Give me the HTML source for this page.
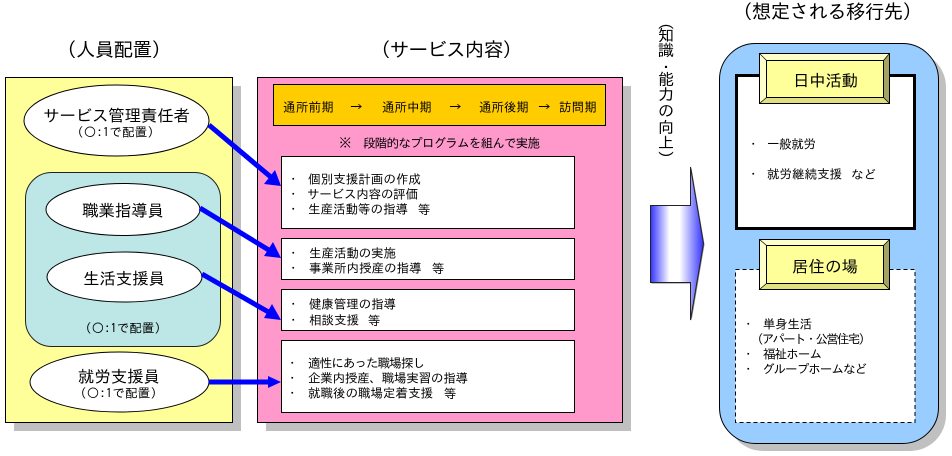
<!DOCTYPE html>
<html lang="ja"><head><meta charset="utf-8"><title>diagram</title>
<style>
html,body{margin:0;padding:0;background:#fff;width:952px;height:456px;overflow:hidden}
svg{position:absolute;left:0;top:0;display:block}
text{font-family:"IPAGothic","Liberation Sans","Noto Sans CJK JP",sans-serif;fill:#000;dominant-baseline:central}
.t{font-size:19.5px}.m{font-size:16.5px}.s{font-size:12.5px}
#v{position:absolute;left:658px;top:13px;writing-mode:vertical-rl;font:16px/16px "IPAGothic","Noto Sans CJK JP",sans-serif;white-space:nowrap}
#v .a{letter-spacing:-3px}
#v .b{letter-spacing:-4px}
</style></head><body>
<svg width="952" height="456" viewBox="0 0 952 456">
<defs>
<linearGradient id="g" x1="0" x2="1" y1="0" y2="0">
<stop offset="0" stop-color="#3333ff"/><stop offset=".36" stop-color="#ffffff"/><stop offset=".55" stop-color="#ffffff"/><stop offset="1" stop-color="#3333ff"/>
</linearGradient>
</defs>
<!-- shadows -->
<rect x="14" y="86" width="227" height="345" fill="#c0c0c0"/>
<rect x="266" y="86" width="365" height="345" fill="#c0c0c0"/>
<rect x="727" y="51" width="219" height="400" rx="36" fill="#c0c0c0"/>
<!-- panels -->
<rect x="5.5" y="77.5" width="227" height="345" fill="#ffff99" stroke="#000"/>
<rect x="257.5" y="77.5" width="365" height="345" fill="#ff99cc" stroke="#000"/>
<rect x="719.5" y="43.5" width="219" height="400" rx="36" fill="#99ccff" stroke="#000"/>
<!-- left -->
<rect x="25.5" y="172.5" width="195" height="174" rx="26" fill="#bde6e6" stroke="#222"/>
<ellipse cx="116.5" cy="120.5" rx="92.5" ry="35.5" fill="#fff" stroke="#000"/>
<ellipse cx="123" cy="209.5" rx="77" ry="26" fill="#fff" stroke="#000"/>
<ellipse cx="124.5" cy="277" rx="77.5" ry="25" fill="#fff" stroke="#000"/>
<ellipse cx="119.5" cy="382" rx="89.5" ry="30" fill="#fff" stroke="#000"/>
<!-- centre -->
<rect x="273.5" y="84.5" width="332" height="41" fill="#ffcc00" stroke="#000"/>
<rect x="281.5" y="156.5" width="293" height="72" fill="#fff" stroke="#000"/>
<rect x="281.5" y="238.5" width="293" height="41" fill="#fff" stroke="#000"/>
<rect x="281.5" y="289.5" width="293" height="41" fill="#fff" stroke="#000"/>
<rect x="281.5" y="340.5" width="293" height="72" fill="#fff" stroke="#000"/>
<!-- arrows -->
<g stroke="#0000ff" stroke-width="5" fill="none">
<line x1="209" y1="125" x2="272" y2="178"/>
<line x1="200" y1="208" x2="272" y2="252"/>
<line x1="202" y1="274" x2="272" y2="314"/>
<line x1="209" y1="382" x2="272" y2="382"/>
</g>
<g fill="#0000ff">
<polygon points="281,186 264,184 275,170"/>
<polygon points="281,258 264,256 273,242"/>
<polygon points="281,320 264,318 272,304"/>
<polygon points="281,382 268,376 268,388"/>
</g>
<!-- big arrow -->
<polygon points="650.5,205.5 690.5,205.5 690.5,167 703.5,243.5 690.5,320 690.5,282.5 650.5,282.5" fill="#808080" transform="translate(1,1)"/>
<polygon points="650.5,205.5 690.5,205.5 690.5,167 703.5,243.5 690.5,320 690.5,282.5 650.5,282.5" fill="url(#g)" stroke="#222" stroke-width="1"/>
<!-- right -->
<rect x="736.5" y="75.5" width="178" height="153" fill="#fff" stroke="#000" stroke-width="3"/>
<rect x="735.5" y="269.5" width="179.500" height="153" fill="#fff" stroke="#000" stroke-dasharray="4 3"/>
<!-- bevel 1 -->
<g stroke="#000" stroke-width=".6">
<rect x="759.500" y="53.500" width="130" height="50" fill="#ffff99"/>
<polygon points="759.500,53.500 889.500,53.500 883.500,60.500 766.500,60.500" fill="#ffffcc"/>
<polygon points="759.500,53.500 766.500,60.500 766.500,97.500 759.500,103.500" fill="#ffffcc"/>
<polygon points="889.500,53.500 883.500,60.500 883.500,97.500 889.500,103.500" fill="#a3a366"/>
<polygon points="759.500,103.500 766.500,97.500 883.500,97.500 889.500,103.500" fill="#e0e080"/>
<rect x="766.500" y="60.500" width="117" height="37" fill="#ffff99" stroke-width="1"/>
<rect x="759.500" y="53.500" width="130" height="50" fill="none" stroke-width="1"/>
</g>
<!-- bevel 2 -->
<g stroke="#000" stroke-width=".6">
<rect x="759.500" y="239.500" width="130" height="50" fill="#ffff99"/>
<polygon points="759.500,239.500 889.500,239.500 883.500,245.500 766.500,245.500" fill="#ffffcc"/>
<polygon points="759.500,239.500 766.500,245.500 766.500,283.500 759.500,289.500" fill="#ffffcc"/>
<polygon points="889.500,239.500 883.500,245.500 883.500,283.500 889.500,289.500" fill="#a3a366"/>
<polygon points="759.500,289.500 766.500,283.500 883.500,283.500 889.500,289.500" fill="#e0e080"/>
<rect x="766.500" y="245.500" width="117" height="38" fill="#ffff99" stroke-width="1"/>
<rect x="759.500" y="239.500" width="130" height="50" fill="none" stroke-width="1"/>
</g>
<!-- titles -->
<text class="t" x="57" y="50" textLength="114" lengthAdjust="spacing">（人員配置）</text>
<text class="t" x="371" y="50" textLength="151" lengthAdjust="spacing">（サービス内容）</text>
<text class="t" x="733" y="12" textLength="189" lengthAdjust="spacing">（想定される移行先）</text>
<!-- left labels -->
<text class="m" x="43" y="115" textLength="147" lengthAdjust="spacing">サービス管理責任者</text>
<text class="s" x="71" y="132" textLength="89" lengthAdjust="spacing">（○:1で配置）</text>
<text class="m" x="82" y="210" textLength="82" lengthAdjust="spacing">職業指導員</text>
<text class="m" x="83" y="278" textLength="82" lengthAdjust="spacing">生活支援員</text>
<text class="s" x="79" y="328" textLength="88" lengthAdjust="spacing">（○:1で配置）</text>
<text class="m" x="78" y="376" textLength="82" lengthAdjust="spacing">就労支援員</text>
<text class="s" x="74" y="393" textLength="89" lengthAdjust="spacing">（○:1で配置）</text>
<!-- orange -->
<text class="s" x="283" y="107" textLength="51" lengthAdjust="spacing">通所前期</text>
<text class="s" x="350" y="107">→</text>
<text class="s" x="382" y="107" textLength="50" lengthAdjust="spacing">通所中期</text>
<text class="s" x="449" y="107">→</text>
<text class="s" x="479" y="107" textLength="50" lengthAdjust="spacing">通所後期</text>
<text class="s" x="538" y="107">→</text>
<text class="s" x="559" y="107" textLength="38" lengthAdjust="spacing">訪問期</text>
<text class="s" x="339" y="143">※</text>
<text class="s" x="363" y="143" textLength="177" lengthAdjust="spacing">段階的なプログラムを組んで実施</text>
<!-- boxes -->
<g class="s">
<text class="s" x="287" y="179">・</text><text class="s" x="308" y="179" textLength="113" lengthAdjust="spacing">個別支援計画の作成</text>
<text class="s" x="287" y="194">・</text><text class="s" x="307" y="194" textLength="111" lengthAdjust="spacing">サービス内容の評価</text>
<text class="s" x="287" y="209">・</text><text class="s" x="308" y="209">生産活動等の指導<tspan x="418">等</tspan></text>
<text class="s" x="287" y="253">・</text><text class="s" x="309" y="253" textLength="87" lengthAdjust="spacing">生産活動の実施</text>
<text class="s" x="287" y="268">・</text><text class="s" x="309" y="268">事業所内授産の指導<tspan x="432">等</tspan></text>
<text class="s" x="287" y="304">・</text><text class="s" x="309" y="304" textLength="87" lengthAdjust="spacing">健康管理の指導</text>
<text class="s" x="287" y="320">・</text><text class="s" x="309" y="320">相談支援<tspan x="368">等</tspan></text>
<text class="s" x="286" y="363">・</text><text class="s" x="308" y="363" textLength="117" lengthAdjust="spacing">適性にあった職場探し</text>
<text class="s" x="286" y="378">・</text><text class="s" x="308" y="378" textLength="160" lengthAdjust="spacing">企業内授産、職場実習の指導</text>
<text class="s" x="286" y="393">・</text><text class="s" x="308" y="393">就職後の職場定着支援<tspan x="444">等</tspan></text>
</g>
<!-- right labels -->
<text class="m" x="793" y="80" textLength="65" lengthAdjust="spacing">日中活動</text>
<text class="m" x="792" y="266" textLength="66" lengthAdjust="spacing">居住の場</text>
<text class="s" x="747" y="144">・</text><text class="s" x="767" y="144" textLength="49" lengthAdjust="spacing">一般就労</text>
<text class="s" x="747" y="174">・</text><text class="s" x="767" y="174">就労継続支援<tspan x="851">など</tspan></text>
<text class="s" x="742" y="324">・</text><text class="s" x="763" y="324" textLength="49" lengthAdjust="spacing">単身生活</text>
<text class="s" x="751" y="339" textLength="120" lengthAdjust="spacing">（アパート・公営住宅）</text>
<text class="s" x="742" y="354">・</text><text class="s" x="763" y="354" textLength="59" lengthAdjust="spacing">福祉ホーム</text>
<text class="s" x="742" y="369">・</text><text class="s" x="762" y="369" textLength="105" lengthAdjust="spacing">グループホームなど</text>
</svg>
<div id="v"><span class="a">（</span>知識<span class="b">・</span>能力の向上）</div>
</body></html>
